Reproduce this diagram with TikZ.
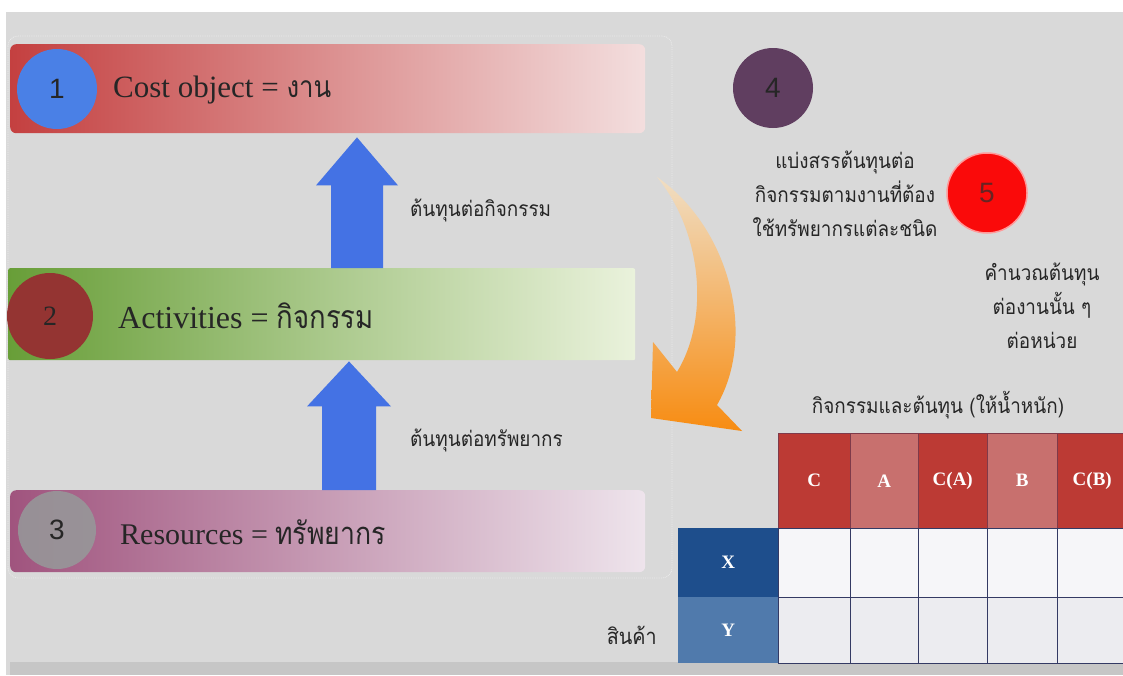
\documentclass[tikz,border=0pt]{standalone}
\usepackage{fontspec}
\setmainfont{Liberation Serif}
\newfontfamily\thaicond[Script=Thai,FakeStretch=0.9]{Loma}
\newfontfamily\thaiband[Script=Thai,FakeStretch=0.86]{Loma}
\newfontfamily\numfont{Liberation Sans}
\usetikzlibrary{calc}

\definecolor{bggray}{RGB}{217,217,217}
\definecolor{stripgray}{RGB}{198,198,198}
\definecolor{framegray}{RGB}{236,236,236}
\definecolor{inkdark}{RGB}{38,38,38}
\definecolor{arrowblue}{RGB}{68,114,228}
\definecolor{redL}{RGB}{196,64,64}
\definecolor{redR}{RGB}{243,222,222}
\definecolor{greenL}{RGB}{104,158,56}
\definecolor{greenR}{RGB}{234,242,220}
\definecolor{mauveL}{RGB}{160,84,126}
\definecolor{mauveR}{RGB}{238,228,236}
\definecolor{circblue}{RGB}{74,128,230}
\definecolor{circmaroon}{RGB}{148,52,50}
\definecolor{circgray}{RGB}{150,154,154}
\definecolor{circplum}{RGB}{96,62,96}
\definecolor{circred}{RGB}{250,10,10}
\definecolor{orangeT}{RGB}{240,222,196}
\definecolor{orangeM}{RGB}{244,182,100}
\definecolor{orangeB}{RGB}{247,140,18}
\definecolor{hdrdark}{RGB}{188,58,52}
\definecolor{hdrlight}{RGB}{200,112,110}
\definecolor{rowX}{RGB}{30,78,140}
\definecolor{rowY}{RGB}{80,122,172}
\definecolor{cellX}{RGB}{246,246,249}
\definecolor{cellY}{RGB}{236,236,240}
\definecolor{gridline}{RGB}{52,58,100}

\tikzset{
  band/.style={inner sep=0, anchor=north west, rounded corners=6pt},
  numdisc/.style={circle, inner sep=0, minimum size=#1, font=\numfont\fontsize{28}{30}\selectfont, text=inkdark},
  bandtext/.style={anchor=west, inner sep=0, text=inkdark, font=\fontsize{31}{33}\selectfont},
  note/.style={inner sep=0, text=inkdark, font=\thaicond\fontsize{21}{34}\selectfont, align=center},
  blockarrow/.style={fill=arrowblue},
  hdr/.style={draw=gridline!45!hdrdark, line width=0.5pt, anchor=north west, inner sep=0,
              minimum height=95pt, text=white, font=\bfseries\fontsize{19}{21}\selectfont},
  rowhead/.style={anchor=north west, inner sep=0, minimum width=100pt, text=white,
              font=\bfseries\fontsize{19}{21}\selectfont},
  cell/.style={draw=gridline, line width=0.9pt, anchor=north west, inner sep=0}
}

\begin{document}
\begin{tikzpicture}[x=1pt,y=-1pt]
\useasboundingbox (0,0) rectangle (1123,675);
\fill[white] (0,0) rectangle (1123,675);
\fill[bggray] (6,12) rectangle (1123,675);
\fill[stripgray] (10,662) rectangle (1123,675);

% light dotted frame round the three levels
\draw[framegray, densely dotted, line width=0.8pt, rounded corners=10pt] (8,36) rectangle (672,578);

% axes of the two block arrows
\coordinate (ax1) at (357,0);
\coordinate (ax2) at (349,0);

% ---- level 1
\node[band, left color=redL, right color=redR, minimum width=635pt, minimum height=89pt] (b1) at (10,44) {};
% ---- level 2
\node[band, rounded corners=2pt, left color=greenL, right color=greenR, minimum width=627pt, minimum height=92pt] (b2) at (8,268) {};
% ---- level 3
\node[band, left color=mauveL, right color=mauveR, minimum width=635pt, minimum height=82pt] (b3) at (10,490) {};

% block arrow from level 2 up to level 1
\coordinate (a1s) at (b2.north -| ax1);
\coordinate (a1t) at ($(b1.south -| ax1)+(0,4)$);
\fill[blockarrow] ($(a1s)+(-26,0)$) -- ($(a1t)+(-26,48)$) -- ($(a1t)+(-41,48)$) -- (a1t)
  -- ($(a1t)+(41,48)$) -- ($(a1t)+(26,48)$) -- ($(a1s)+(26,0)$) -- cycle;

% block arrow from level 3 up to level 2
\coordinate (a2s) at (b3.north -| ax2);
\coordinate (a2t) at ($(b2.south -| ax2)+(0,1)$);
\fill[blockarrow] ($(a2s)+(-27,0)$) -- ($(a2t)+(-27,45)$) -- ($(a2t)+(-42,45)$) -- (a2t)
  -- ($(a2t)+(42,45)$) -- ($(a2t)+(27,45)$) -- ($(a2s)+(27,0)$) -- cycle;

% discs and captions of the levels
\node[numdisc=80pt, fill=circblue] (n1) at (57,89) {1};
\node[bandtext] (t1) at (113,90) {Cost object = {\thaiband\fontsize{30}{32}\selectfont งาน}};

\node[numdisc=86pt, fill=circmaroon] (n2) at (50,316) {\fontspec{Liberation Serif}2};
\node[bandtext, font=\fontsize{32}{34}\selectfont] (t2) at (118,316) {Activities = {\thaiband กิจกรรม}};

\node[numdisc=78pt, fill=circgray, fill opacity=0.85, text opacity=1] (n3) at (57,530) {3};
\node[bandtext, font=\fontsize{30}{32}\selectfont] (t3) at (120,532) {Resources = {\thaiband\fontsize{31}{33}\selectfont ทรัพยากร}};

% labels beside the block arrows
\node[note, anchor=west] (l1) at (410,210) {ต้นทุนต่อกิจกรรม};
\node[note, anchor=west] (l2) at (410,440) {ต้นทุนต่อทรัพยากร};

% ---- steps 4 and 5
\node[numdisc=80pt, fill=circplum] (n4) at (773,88) {4};
\node[note] (s4) at (845,194) {แบ่งสรรต้นทุนต่อ\\กิจกรรมตามงานที่ต้อง\\ใช้ทรัพยากรแต่ละชนิด};
\node[numdisc=80pt, fill=circred, draw=red!40!white, line width=1.5pt, text=circmaroon!70!black] (n5) at (987,193) {5};
\node[note] (s5) at (1042,306) {คำนวณต้นทุน\\ต่องานนั้น ๆ\\ต่อหน่วย};

% ---- curved orange arrow
\shade[top color=orangeT, middle color=orangeM, bottom color=orangeB, shading angle=0]
  (657,177) .. controls (728,226) and (758,334) .. (717,405)
  -- (742,431) -- (651,418) -- (653,342) -- (677,372)
  .. controls (710,318) and (702,232) .. (657,177) -- cycle;

% ---- table of activities and costs
\node[note, font=\thaicond\fontsize{21}{24}\selectfont] (tt) at (938,405) {กิจกรรมและต้นทุน (ให้น้ำหนัก)};

\node[hdr, fill=hdrdark,  minimum width=72pt] (hC)  at (778,433) {C};
\node[hdr, fill=hdrlight, minimum width=68pt] (hA)  at (850,433) {A};
\node[hdr, fill=hdrdark,  minimum width=69pt] (hCA) at (918,433) {C(A)};
\node[hdr, fill=hdrlight, minimum width=70pt] (hB)  at (987,433) {B};
\node[hdr, fill=hdrdark,  minimum width=70pt] (hCB) at (1057,433) {C(B)};

\node[rowhead, fill=rowX, minimum height=69pt] (rX) at (678,528) {X};
\node[rowhead, fill=rowY, minimum height=66pt] (rY) at (678,597) {Y};

\foreach \cx/\w/\nm in {778/72/c1, 850/68/c2, 918/69/c3, 987/70/c4, 1057/70/c5}{
  \node[cell, fill=cellX, minimum width=\w pt, minimum height=69pt] (x\nm) at (\cx,528) {};
  \node[cell, fill=cellY, minimum width=\w pt, minimum height=66pt] (y\nm) at (\cx,597) {};
}

\node[note, anchor=east, font=\thaicond\fontsize{22}{24}\selectfont] (goods) at (657,635) {สินค้า};
\end{tikzpicture}
\end{document}
